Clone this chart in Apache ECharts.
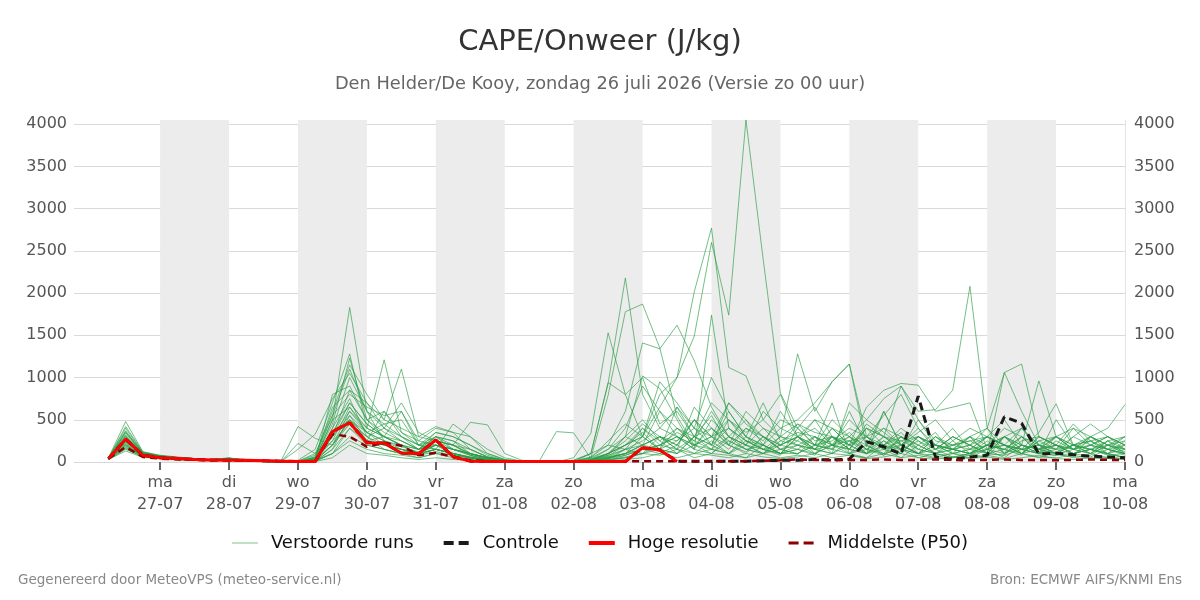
<!DOCTYPE html>
<html>
<head>
<meta charset="utf-8">
<script src="https://cdn.jsdelivr.net/npm/echarts@6/dist/echarts.min.js"></script>
<style>
  html, body { margin: 0; padding: 0; background: #fff; }
  #chart { width: 1200px; height: 600px; }
</style>
</head>
<body>
<div id="chart"></div>
<script>
// uren na zo 26-07 00:00
var hours = [6, 12, 18, 24, 30, 36, 42, 48, 54, 60, 66, 72, 78, 84, 90, 96, 102, 108, 114, 120,
    126, 132, 138, 144, 150, 156, 162, 168, 174, 180, 186, 192, 198, 204, 210, 216, 222, 228, 234, 240,
    246, 252, 258, 264, 270, 276, 282, 288, 294, 300, 306, 312, 318, 324, 330, 336, 342, 348, 354, 360];

var tickHours = [24, 48, 72, 96, 120, 144, 168, 192, 216, 240, 264, 288, 312, 336, 360];
var tickLabels = ['ma\n27-07', 'di\n28-07', 'wo\n29-07', 'do\n30-07', 'vr\n31-07', 'za\n01-08', 'zo\n02-08',
    'ma\n03-08', 'di\n04-08', 'wo\n05-08', 'do\n06-08', 'vr\n07-08', 'za\n08-08', 'zo\n09-08', 'ma\n10-08'];
var dayBands = [[24, 48], [72, 96], [120, 144], [168, 192], [216, 240], [264, 288], [312, 336]];
var yTicks = [0, 500, 1000, 1500, 2000, 2500, 3000, 3500, 4000];

var run01 = [50, 480, 120, 80, 60, 40, 30, 50, 20, 15, 5, 0, 40, 500, 1830, 600, 250, 180, 120, 300, 200, 80, 30, 10, 5, 0, 0, 10, 60, 200, 150, 400, 250, 100, 300, 550, 200, 120, 300, 150, 90, 300, 150, 600, 200, 80, 300, 150, 100, 50, 80, 200, 300, 100, 50, 120, 200, 150, 90, 60];
var run02 = [40, 350, 100, 70, 50, 30, 25, 40, 20, 10, 5, 20, 150, 700, 1280, 400, 1210, 350, 200, 150, 100, 50, 20, 10, 0, 0, 5, 20, 100, 940, 800, 300, 150, 650, 400, 200, 600, 300, 150, 80, 400, 200, 700, 100, 300, 150, 50, 200, 350, 100, 50, 150, 100, 400, 200, 90, 60, 300, 150, 100];
var run03 = [35, 300, 90, 60, 40, 30, 20, 35, 15, 10, 0, 10, 80, 600, 1150, 800, 500, 1100, 300, 420, 350, 150, 60, 20, 5, 0, 0, 0, 30, 80, 300, 1020, 870, 500, 150, 1740, 400, 250, 200, 600, 300, 500, 200, 150, 450, 300, 900, 500, 200, 150, 300, 100, 1060, 600, 200, 100, 50, 80, 200, 120];
var run04 = [45, 400, 110, 70, 50, 35, 25, 45, 20, 10, 5, 0, 30, 300, 850, 500, 300, 250, 150, 200, 100, 60, 30, 10, 0, 0, 0, 20, 100, 930, 2180, 800, 400, 650, 300, 200, 100, 300, 200, 100, 150, 80, 300, 100, 50, 200, 100, 300, 150, 60, 100, 50, 300, 150, 100, 500, 200, 100, 50, 30];
var run05 = [40, 250, 80, 55, 40, 30, 20, 30, 15, 10, 0, 0, 20, 400, 750, 300, 200, 150, 100, 250, 200, 470, 440, 100, 20, 5, 0, 50, 340, 1530, 800, 1000, 450, 600, 300, 150, 500, 300, 200, 100, 300, 150, 100, 250, 100, 600, 200, 100, 300, 150, 200, 100, 80, 300, 150, 200, 100, 60, 150, 80];
var run06 = [50, 320, 100, 65, 45, 30, 25, 40, 15, 10, 5, 5, 60, 250, 650, 400, 300, 200, 100, 150, 450, 300, 100, 30, 10, 0, 0, 10, 50, 790, 1780, 1870, 1350, 540, 200, 100, 300, 150, 100, 250, 200, 150, 400, 200, 100, 250, 150, 50, 100, 200, 150, 300, 200, 100, 250, 150, 100, 200, 300, 150];
var run07 = [30, 200, 70, 50, 35, 25, 20, 30, 10, 5, 0, 0, 10, 150, 550, 250, 600, 300, 200, 300, 150, 100, 50, 20, 5, 0, 0, 0, 100, 200, 600, 1410, 1340, 1620, 1200, 650, 300, 500, 200, 100, 300, 100, 200, 350, 150, 80, 200, 100, 50, 100, 80, 150, 50, 200, 100, 300, 150, 200, 100, 50];
var run08 = [40, 280, 90, 60, 40, 30, 20, 35, 15, 10, 0, 0, 30, 200, 500, 350, 250, 150, 100, 200, 100, 50, 20, 5, 0, 0, 0, 0, 20, 100, 200, 300, 800, 1000, 2015, 2770, 1120, 1020, 500, 800, 300, 150, 400, 200, 100, 300, 150, 250, 100, 50, 100, 200, 150, 80, 300, 200, 100, 150, 250, 100];
var run09 = [35, 220, 80, 55, 35, 25, 20, 30, 10, 5, 0, 0, 20, 100, 400, 250, 200, 150, 100, 150, 100, 50, 20, 5, 0, 0, 0, 0, 10, 50, 100, 300, 650, 1000, 1490, 2600, 1740, 4050, 2400, 815, 400, 200, 300, 150, 100, 200, 300, 100, 200, 150, 100, 200, 150, 300, 100, 80, 150, 100, 200, 150];
var run10 = [45, 260, 90, 60, 45, 30, 20, 40, 15, 10, 0, 10, 50, 350, 700, 450, 300, 200, 150, 250, 200, 100, 50, 20, 5, 0, 0, 0, 50, 150, 300, 200, 600, 400, 300, 700, 500, 350, 500, 300, 1280, 600, 950, 1160, 300, 550, 800, 400, 150, 300, 200, 400, 200, 150, 100, 250, 150, 300, 200, 150];
var run11 = [35, 180, 70, 50, 35, 25, 15, 25, 10, 5, 0, 0, 10, 200, 500, 300, 150, 100, 80, 150, 100, 50, 20, 10, 0, 0, 0, 0, 30, 100, 200, 350, 150, 100, 300, 200, 400, 250, 150, 300, 250, 150, 100, 700, 500, 750, 900, 600, 620, 850, 2080, 400, 100, 200, 150, 300, 200, 100, 250, 300];
var run12 = [40, 300, 100, 65, 45, 30, 20, 35, 15, 10, 0, 0, 40, 300, 600, 350, 250, 200, 150, 200, 150, 80, 30, 10, 0, 0, 0, 0, 20, 80, 150, 200, 300, 200, 500, 300, 200, 400, 300, 200, 300, 200, 500, 300, 200, 400, 300, 200, 100, 150, 300, 400, 1060, 1160, 300, 200, 100, 150, 200, 100];
var run13 = [30, 150, 60, 45, 30, 20, 15, 25, 10, 5, 0, 0, 5, 100, 300, 200, 150, 100, 50, 100, 50, 30, 10, 0, 0, 0, 0, 0, 10, 50, 100, 150, 200, 300, 150, 100, 250, 150, 100, 200, 150, 300, 200, 100, 150, 250, 100, 300, 200, 100, 150, 300, 500, 200, 960, 300, 150, 250, 100, 200];
var run14 = [45, 340, 110, 75, 50, 35, 25, 45, 20, 10, 5, 10, 100, 550, 800, 650, 550, 600, 200, 150, 100, 50, 20, 5, 0, 0, 0, 0, 5, 30, 50, 100, 200, 150, 300, 400, 200, 100, 300, 150, 200, 100, 300, 150, 400, 200, 350, 150, 100, 250, 100, 300, 200, 150, 350, 690, 200, 300, 400, 680];
var run15 = [35, 240, 80, 55, 40, 25, 20, 30, 10, 5, 0, 0, 20, 250, 450, 300, 400, 700, 350, 250, 150, 100, 40, 10, 0, 0, 0, 0, 10, 40, 100, 200, 150, 250, 400, 300, 700, 450, 300, 200, 450, 350, 300, 200, 650, 850, 930, 910, 600, 650, 700, 150, 300, 200, 100, 150, 200, 250, 150, 200];
var run16 = [50, 420, 120, 75, 55, 40, 30, 45, 20, 10, 5, 0, 30, 400, 1000, 600, 400, 250, 150, 300, 250, 100, 50, 20, 5, 0, 0, 0, 20, 60, 150, 250, 400, 300, 150, 500, 300, 200, 600, 400, 500, 700, 950, 1160, 180, 600, 200, 100, 300, 150, 200, 100, 300, 150, 200, 100, 300, 200, 150, 100];
var run17 = [40, 280, 90, 60, 45, 30, 20, 35, 15, 10, 5, 420, 280, 200, 600, 400, 300, 200, 100, 200, 150, 80, 30, 10, 0, 0, 0, 0, 10, 50, 100, 200, 300, 150, 100, 250, 100, 50, 200, 100, 100, 200, 150, 300, 100, 150, 200, 400, 200, 100, 300, 100, 150, 300, 100, 200, 150, 100, 250, 150];
var run18 = [35, 200, 70, 50, 35, 25, 20, 30, 15, 10, 0, 220, 100, 300, 550, 350, 450, 300, 150, 350, 300, 200, 100, 30, 10, 10, 360, 345, 40, 100, 200, 300, 150, 400, 250, 150, 300, 200, 100, 300, 200, 300, 100, 200, 300, 150, 100, 300, 200, 150, 100, 250, 100, 200, 150, 300, 200, 150, 100, 250];
var run19 = [45, 370, 110, 70, 50, 35, 25, 40, 20, 10, 5, 150, 330, 750, 1050, 700, 400, 300, 200, 250, 200, 150, 60, 20, 5, 0, 0, 0, 30, 150, 400, 900, 600, 300, 200, 400, 200, 600, 400, 200, 300, 400, 200, 300, 500, 350, 200, 100, 150, 300, 200, 100, 300, 400, 200, 150, 300, 450, 300, 200];
var run20 = [30, 160, 60, 45, 30, 20, 15, 25, 10, 5, 0, 0, 10, 100, 250, 150, 100, 80, 50, 100, 80, 40, 20, 5, 0, 0, 0, 0, 10, 20, 50, 100, 80, 150, 50, 100, 80, 50, 100, 50, 80, 50, 100, 80, 50, 100, 50, 80, 40, 60, 50, 80, 40, 100, 60, 50, 80, 40, 60, 40];
var run21 = [40, 240, 85, 60, 40, 30, 20, 35, 15, 10, 0, 0, 20, 800, 900, 500, 600, 350, 250, 400, 350, 300, 150, 50, 10, 0, 0, 0, 20, 100, 250, 450, 300, 200, 500, 300, 400, 200, 150, 100, 200, 150, 300, 250, 150, 100, 300, 200, 100, 150, 100, 200, 150, 100, 300, 200, 100, 150, 100, 50];
var run22 = [35, 210, 75, 55, 40, 25, 20, 30, 10, 5, 0, 0, 5, 150, 400, 200, 150, 100, 80, 120, 80, 50, 20, 5, 0, 0, 0, 0, 5, 20, 80, 150, 100, 200, 100, 150, 100, 200, 100, 150, 100, 200, 150, 100, 200, 100, 150, 100, 80, 100, 150, 100, 80, 150, 100, 80, 100, 150, 80, 100];
var run23 = [50, 310, 95, 65, 45, 30, 25, 40, 15, 10, 5, 0, 40, 450, 1230, 500, 350, 250, 150, 300, 250, 150, 60, 20, 5, 0, 0, 0, 20, 100, 300, 500, 250, 400, 200, 300, 150, 400, 250, 500, 400, 650, 300, 200, 400, 300, 150, 500, 250, 200, 300, 200, 400, 300, 200, 150, 400, 300, 200, 300];
var run24 = [40, 190, 70, 50, 35, 25, 20, 30, 15, 5, 0, 0, 20, 300, 700, 450, 300, 600, 250, 200, 150, 100, 40, 10, 0, 0, 0, 0, 10, 60, 100, 200, 300, 150, 650, 400, 250, 150, 200, 400, 300, 200, 250, 400, 300, 200, 400, 250, 150, 300, 200, 300, 100, 250, 300, 200, 150, 300, 200, 250];
var run25 = [45, 290, 100, 70, 50, 35, 25, 40, 20, 10, 0, 0, 30, 500, 650, 350, 200, 150, 100, 150, 100, 50, 20, 5, 0, 0, 0, 0, 50, 250, 450, 300, 950, 700, 400, 1000, 600, 300, 700, 250, 350, 300, 200, 500, 300, 150, 250, 300, 200, 400, 150, 200, 300, 200, 150, 100, 200, 250, 150, 100];
var run26 = [30, 130, 55, 40, 30, 20, 15, 20, 10, 5, 0, 0, 5, 50, 200, 100, 80, 50, 30, 50, 30, 20, 10, 0, 0, 0, 0, 0, 5, 10, 30, 50, 100, 50, 100, 80, 50, 100, 60, 40, 60, 100, 50, 80, 40, 60, 100, 50, 30, 60, 40, 60, 30, 50, 80, 40, 30, 50, 40, 30];
var run27 = [40, 260, 90, 60, 40, 30, 20, 35, 15, 10, 0, 0, 50, 650, 850, 700, 500, 400, 300, 250, 200, 100, 50, 20, 5, 0, 0, 0, 5, 30, 150, 100, 300, 250, 500, 200, 700, 500, 300, 150, 250, 500, 400, 300, 150, 300, 200, 350, 500, 250, 400, 300, 200, 100, 250, 300, 150, 200, 300, 200];
var run28 = [35, 230, 80, 55, 40, 30, 20, 30, 15, 10, 0, 0, 10, 200, 450, 250, 300, 200, 100, 150, 100, 60, 30, 10, 0, 0, 0, 0, 10, 40, 80, 150, 200, 350, 250, 600, 300, 200, 400, 300, 450, 250, 300, 150, 400, 300, 250, 150, 300, 200, 250, 150, 200, 400, 150, 200, 450, 250, 300, 200];
var run29 = [45, 360, 105, 70, 50, 35, 25, 40, 20, 10, 5, 0, 60, 550, 1100, 600, 450, 500, 200, 350, 300, 200, 80, 20, 5, 0, 0, 0, 20, 70, 200, 400, 200, 300, 200, 300, 500, 250, 150, 200, 300, 150, 200, 250, 300, 400, 200, 300, 150, 200, 250, 300, 200, 150, 200, 300, 400, 200, 150, 300];
var run30 = [35, 170, 65, 45, 35, 20, 15, 25, 10, 5, 0, 0, 15, 350, 500, 250, 200, 150, 100, 200, 150, 100, 50, 10, 0, 0, 0, 0, 5, 20, 60, 100, 150, 100, 200, 150, 100, 250, 150, 100, 150, 100, 200, 150, 100, 200, 150, 100, 200, 150, 100, 150, 200, 100, 150, 100, 200, 150, 100, 150];

var runs = [run01, run02, run03, run04, run05, run06, run07, run08, run09, run10,
    run11, run12, run13, run14, run15, run16, run17, run18, run19, run20,
    run21, run22, run23, run24, run25, run26, run27, run28, run29, run30];

// controle valt tot ~h250 samen met de andere lijnen
var controle = [40, 270, 80, 50, 40, 30, 25, 20, 20, 15, 10, 5, 5, 360, 465, 228, 225, 107, 100, 260, 63, 10, 5, 5, 5, 5, 5, 5, 5, 5, 5, 170, 142, 10, 10, 10, 10, 10, 15, 20, 20, 30, 25, 35, 240, 180, 95, 780, 60, 30, 60, 80, 536, 460, 95, 105, 85, 70, 60, 50];
var hogeResolutie = [40, 270, 80, 50, 40, 30, 25, 20, 20, 15, 10, 5, 5, 360, 465, 228, 225, 107, 100, 260, 63, 10, 5, 5, 5, 5, 5, 5, 5, 5, 5, 170, 142, 5];
var middelste = [40, 178, 60, 40, 30, 25, 20, 20, 15, 15, 10, 10, 10, 330, 300, 180, 228, 193, 80, 110, 60, 20, 10, 10, 10, 10, 10, 10, 10, 10, 10, 10, 10, 10, 10, 10, 10, 10, 15, 20, 30, 25, 20, 25, 25, 30, 25, 25, 30, 25, 20, 25, 30, 25, 25, 20, 25, 30, 25, 25];

function pairs(values) {
    return values.map(function (v, i) { return [hours[i], v]; });
}

var chart = echarts.init(document.getElementById('chart'));
var fontFamily = 'DejaVu Sans';

// legenda-iconen: dunne lijn, streepjes, dikke lijn
var iconThin = 'path://M0,0M26,14M0,6.5H26V7.5H0Z';
var iconThick = 'path://M0,0M26,14M0,5H26V9H0Z';
var iconDash = 'path://M0,0M26,14M0,5H10V9H0ZM15,5H25V9H15Z';
var iconDashThin = 'path://M0,0M26,14M0,5.5H10V8.5H0ZM15,5.5H25V8.5H15Z';

var series = [{
    name: 'dagen',
    type: 'line',
    data: [],
    silent: true,
    z: 0,
    markArea: {
        silent: true,
        itemStyle: { color: '#ececec' },
        data: dayBands.map(function (b) { return [{ xAxis: b[0] }, { xAxis: b[1] }]; })
    }
}];

runs.forEach(function (r) {
    series.push({
        name: 'Verstoorde runs',
        type: 'line',
        data: pairs(r),
        symbol: 'none',
        silent: true,
        z: 2,
        lineStyle: { color: '#2a9c45', width: 1, opacity: 0.65 },
        itemStyle: { color: '#2a9c45', opacity: 0.6 }
    });
});

series.push({
    name: 'Controle',
    type: 'line',
    data: pairs(controle),
    symbol: 'none',
    z: 3,
    lineStyle: { color: '#1a1a1a', width: 3, type: [8, 5] },
    itemStyle: { color: '#1a1a1a' }
});
series.push({
    name: 'Middelste (P50)',
    type: 'line',
    data: pairs(middelste),
    symbol: 'none',
    z: 4,
    lineStyle: { color: '#8b0000', width: 2.5, type: [7, 5] },
    itemStyle: { color: '#8b0000' }
});
series.push({
    name: 'Hoge resolutie',
    type: 'line',
    data: pairs(hogeResolutie),
    symbol: 'none',
    z: 5,
    lineStyle: { color: '#ff0000', width: 3 },
    itemStyle: { color: '#ff0000' }
});

var option = {
    animation: false,
    textStyle: { fontFamily: fontFamily },
    title: [{
        text: 'CAPE/Onweer (J/kg)',
        left: 'center',
        top: 28,
        padding: 0,
        textStyle: { fontSize: 29, fontWeight: 'normal', color: '#333', fontFamily: fontFamily }
    }, {
        text: 'Den Helder/De Kooy, zondag 26 juli 2026 (Versie zo 00 uur)',
        left: 'center',
        top: 75,
        padding: 0,
        textStyle: { fontSize: 17.8, fontWeight: 'normal', color: '#666', fontFamily: fontFamily }
    }, {
        text: 'Gegenereerd door MeteoVPS (meteo-service.nl)',
        left: 18,
        top: 573,
        padding: 0,
        textStyle: { fontSize: 13.5, fontWeight: 'normal', color: '#888', fontFamily: fontFamily }
    }, {
        text: 'Bron: ECMWF AIFS/KNMI Ens',
        right: 18,
        top: 573,
        padding: 0,
        textStyle: { fontSize: 13.5, fontWeight: 'normal', color: '#888', fontFamily: fontFamily }
    }],
    legend: {
        data: [
            { name: 'Verstoorde runs', icon: iconThin },
            { name: 'Controle', icon: iconDash },
            { name: 'Hoge resolutie', icon: iconThick },
            { name: 'Middelste (P50)', icon: iconDashThin }
        ],
        left: 'center',
        top: 529,
        itemWidth: 26,
        itemHeight: 14,
        itemGap: 30,
        textStyle: { fontSize: 18, color: '#111', fontFamily: fontFamily, padding: [0, 0, 0, 8] }
    },
    grid: {
        left: 74,
        right: 75,
        top: 120,
        bottom: 138,
        outerBoundsMode: 'none'
    },
    xAxis: {
        type: 'value',
        min: -6,
        max: 360,
        axisLine: { show: true, lineStyle: { color: '#d8d8d8' } },
        axisTick: { show: true, length: 8, customValues: tickHours, lineStyle: { color: '#666', width: 2 } },
        splitLine: { show: false },
        axisLabel: {
            customValues: tickHours,
            margin: 10,
            fontSize: 16,
            lineHeight: 22,
            color: '#555',
            fontFamily: fontFamily,
            formatter: function (v) { return tickLabels[tickHours.indexOf(v)] || ''; }
        }
    },
    yAxis: [{
        type: 'value',
        min: 0,
        max: 4050,
        position: 'left',
        axisLine: { show: false },
        axisTick: { show: false, customValues: yTicks },
        splitLine: { show: true, lineStyle: { color: '#d9d9d9' } },
        axisLabel: {
            customValues: yTicks, margin: 7, fontSize: 16, color: '#555', fontFamily: fontFamily,
            formatter: function (v) { return String(v); }
        }
    }, {
        type: 'value',
        min: 0,
        max: 4050,
        position: 'right',
        axisLine: { show: true, lineStyle: { color: '#e3e3e3' } },
        axisTick: { show: false, customValues: yTicks },
        splitLine: { show: false },
        axisLabel: {
            customValues: yTicks, margin: 9, fontSize: 16, color: '#555', fontFamily: fontFamily,
            formatter: function (v) { return String(v); }
        }
    }],
    series: series
};

chart.setOption(option);
</script>
</body>
</html>
